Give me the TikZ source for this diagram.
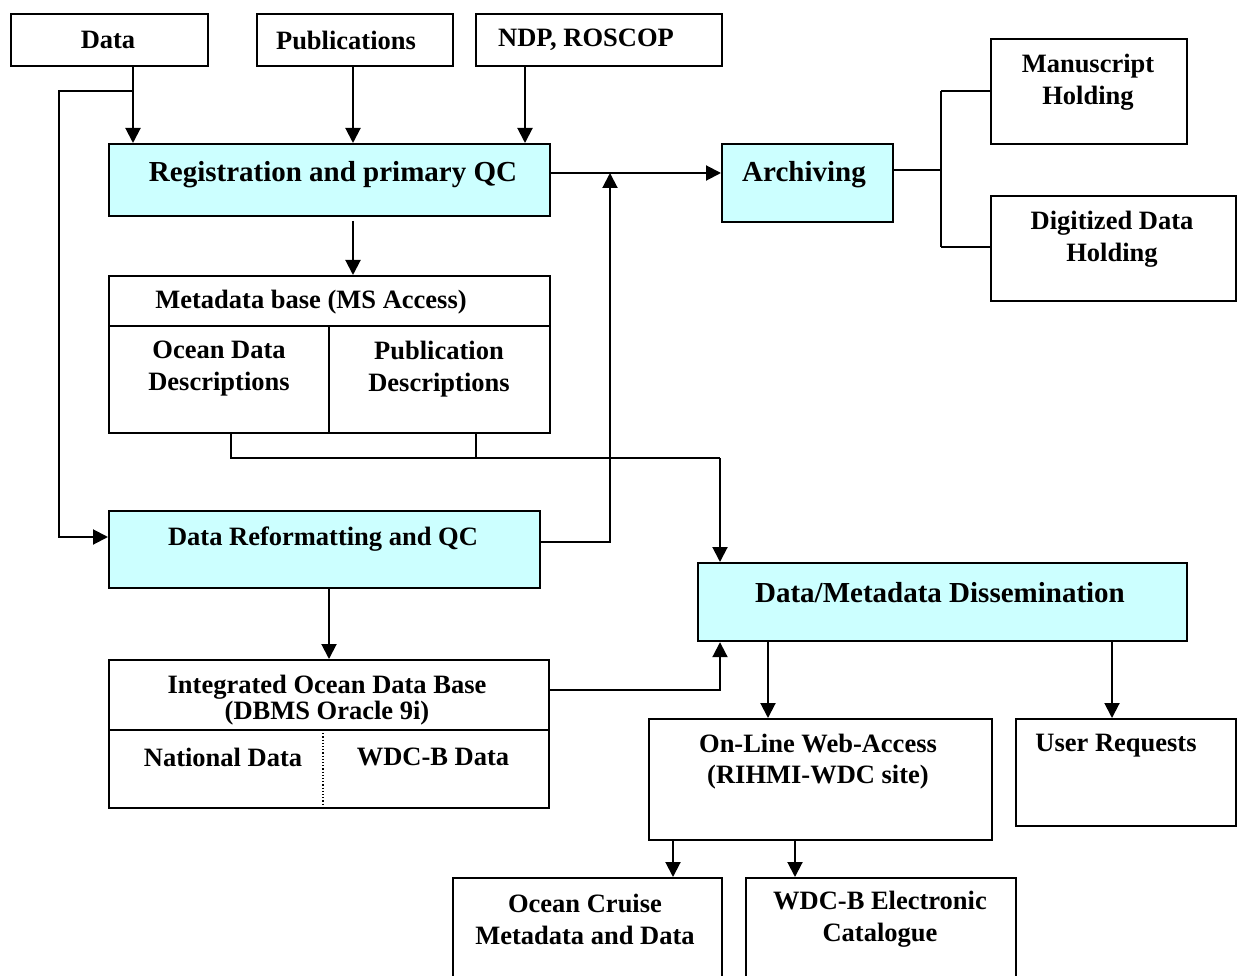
\documentclass[tikz,border=0pt]{standalone}
\usepackage{fontspec}
\setmainfont{Liberation Serif}
\usetikzlibrary{arrows.meta}
\definecolor{boxcyan}{HTML}{CCFFFF}
\newcommand\fbig{\fontsize{29}{34}\selectfont\bfseries}
\newcommand\fsmall{\fontsize{26.5}{32}\selectfont\bfseries}
\begin{document}
\begin{tikzpicture}[x=1pt,y=-1pt,
  box/.style={draw=black,line width=2.2pt,anchor=north west,inner sep=0pt,fill=white},
  cbox/.style={box,fill=boxcyan},
  lbl/.style={inner sep=0pt,align=center,font=\fsmall},
  blbl/.style={inner sep=0pt,align=center,font=\fbig},
  ln/.style={line width=2pt},
  arr/.style={ln,-{Triangle[length=15pt,width=15pt]}}]
\useasboundingbox (0,0) rectangle (1239,976);
\fill[white] (0,0) rectangle (1239,976);
% boxes
\node[box,minimum width=197pt,minimum height=52pt] (data) at (10,13) {};
\node[box,minimum width=196pt,minimum height=52pt] (pub) at (256,13) {};
\node[box,minimum width=246pt,minimum height=52pt] (ndp) at (475,13) {};
\node[cbox,minimum width=441pt,minimum height=72pt] (reg) at (108,143) {};
\node[cbox,minimum width=171pt,minimum height=78pt] (arch) at (721,143) {};
\node[box,minimum width=196pt,minimum height=105pt] (manu) at (990,38) {};
\node[box,minimum width=245pt,minimum height=105pt] (dig) at (990,195) {};
\node[box,minimum width=441pt,minimum height=157pt] (meta) at (108,275) {};
\node[cbox,minimum width=431pt,minimum height=77pt] (reform) at (108,510) {};
\node[cbox,minimum width=489pt,minimum height=78pt] (dis) at (697,562) {};
\node[box,minimum width=440pt,minimum height=148pt] (integ) at (108,659) {};
\node[box,minimum width=343pt,minimum height=121pt] (online) at (648,718) {};
\node[box,minimum width=220pt,minimum height=107pt] (user) at (1015,718) {};
\node[box,minimum width=269pt,minimum height=120pt] (ocean) at (452,877) {};
\node[box,minimum width=270pt,minimum height=120pt] (wdcb) at (745,877) {};
% inner dividers
\coordinate (mh) at (0,326);
\coordinate (mv) at (329,0);
\draw[line width=2.2pt] (meta.west |- mh) -- (meta.east |- mh);
\draw[line width=2.2pt] (mv |- mh) -- (mv |- meta.south);
\coordinate (ih) at (0,730);
\coordinate (iv) at (323,0);
\draw[line width=2.2pt] (integ.west |- ih) -- (integ.east |- ih);
\draw[line width=1.2pt,dotted] (iv |- ih) -- (iv |- integ.south);
% labels
\node[lbl] (tdata) at (108,40) {Data};
\node[lbl] (tpub) at (346,40) {Publications};
\node[lbl] (tndp) at (586,40) {NDP, ROSCOP};
\node[blbl] (treg) at (333,175) {Registration and primary QC};
\node[blbl] (tarch) at (804,175) {Archiving};
\node[lbl] (tmanu) at (1088,82) {Manuscript\\Holding};
\node[lbl] (tdig) at (1112,239) {Digitized Data\\Holding};
\node[lbl] (tmeta) at (311,302) {Metadata base (MS Access)};
\node[lbl] (tocd) at (219,369) {Ocean Data\\Descriptions};
\node[lbl] (tpubd) at (439,369) {Publication\\Descriptions};
\node[lbl] (tref) at (323,539) {Data Reformatting and QC};
\node[blbl] (tdis) at (940,593) {Data/Metadata Dissemination};
\node[lbl,font=\fontsize{26.5}{26}\selectfont\bfseries] (tint) at (327,700) {Integrated Ocean Data Base\\(DBMS Oracle 9i)};
\node[lbl] (tnat) at (223,757) {National Data};
\node[lbl] (twdcd) at (433,757) {WDC-B Data};
\node[lbl,font=\fontsize{26.5}{31}\selectfont\bfseries] (tonl) at (818,762) {On-Line Web-Access\\(RIHMI-WDC site)};
\node[lbl] (tuser) at (1116,746) {User Requests};
\node[lbl] (tocean) at (585,919) {Ocean Cruise\\Metadata and Data};
\node[lbl] (twdcb) at (880,919) {WDC-B Electronic\\Catalogue};
% connector coordinates
\coordinate (xa) at (133,0);
\coordinate (ya) at (0,91);
\coordinate (xl) at (59,0);
\coordinate (yr) at (0,537);
\coordinate (xp) at (353,0);
\coordinate (xn) at (525,0);
\coordinate (rs) at (353,221);
\coordinate (xm1) at (231,0);
\coordinate (xm2) at (476,0);
\coordinate (ym) at (0,458);
\coordinate (xd) at (720,0);
\coordinate (yrf) at (0,542);
\coordinate (xu) at (610,0);
\coordinate (yq) at (0,173);
\coordinate (ya2) at (0,170);
\coordinate (xh) at (941,0);
\coordinate (yh1) at (0,91);
\coordinate (yh2) at (0,247);
\coordinate (xri) at (329,0);
\coordinate (yi) at (0,690);
\coordinate (xo) at (768,0);
\coordinate (xur) at (1112,0);
\coordinate (xoc) at (673,0);
\coordinate (xwb) at (795,0);
% connectors
\draw[arr] (data.south -| xa) -- (reg.north -| xa);
\draw[arr] (xa |- ya) -- (xl |- ya) -- (xl |- yr) -- (reform.west |- yr);
\draw[arr] (pub.south -| xp) -- (reg.north -| xp);
\draw[arr] (ndp.south -| xn) -- (reg.north -| xn);
\draw[arr] (rs) -- (meta.north -| xp);
\draw[ln] (meta.south -| xm1) -- (xm1 |- ym) -- (xd |- ym);
\draw[ln] (meta.south -| xm2) -- (xm2 |- ym);
\draw[arr] (xd |- ym) -- (dis.north -| xd);
\draw[arr] (reform.east |- yrf) -- (xu |- yrf) -- (xu |- yq);
\draw[arr] (reg.east |- yq) -- (arch.west |- yq);
\draw[ln] (arch.east |- ya2) -- (xh |- ya2);
\draw[ln] (xh |- yh1) -- (xh |- yh2);
\draw[ln] (xh |- yh1) -- (manu.west |- yh1);
\draw[ln] (xh |- yh2) -- (dig.west |- yh2);
\draw[arr] (reform.south -| xri) -- (integ.north -| xri);
\draw[arr] (integ.east |- yi) -- (xd |- yi) -- (dis.south -| xd);
\draw[arr] (dis.south -| xo) -- (online.north -| xo);
\draw[arr] (dis.south -| xur) -- (user.north -| xur);
\draw[arr] (online.south -| xoc) -- (ocean.north -| xoc);
\draw[arr] (online.south -| xwb) -- (wdcb.north -| xwb);
\end{tikzpicture}
\end{document}
